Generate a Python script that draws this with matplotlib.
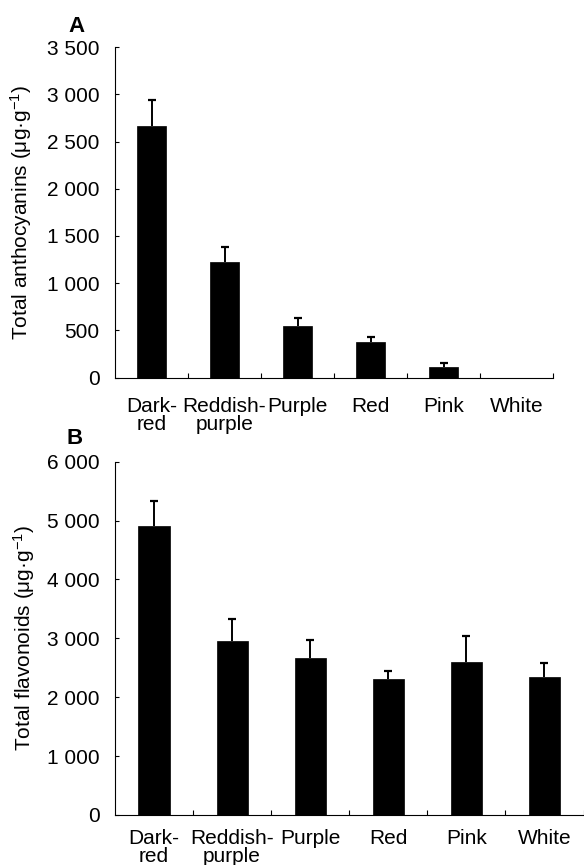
import matplotlib
matplotlib.use("Agg")
import matplotlib.pyplot as plt
import numpy as np
from matplotlib.ticker import FuncFormatter, FixedLocator

plt.rcParams['font.family'] = ['Liberation Sans', 'DejaVu Sans']
plt.rcParams['mathtext.fontset'] = 'custom'
plt.rcParams['mathtext.rm'] = 'Liberation Sans'
plt.rcParams['mathtext.it'] = 'Liberation Sans:italic'

categories = ["Dark-\nred", "Reddish-\npurple", "Purple", "Red", "Pink", "White"]

anthocyanins = [2670, 1222, 544, 375, 110, 0]
anthocyanins_err = [275, 159, 85, 59, 42, 0]

flavonoids = [4912, 2954, 2671, 2314, 2603, 2338]
flavonoids_err = [414, 379, 295, 126, 441, 242]

yticks_a = [0, 500, 1000, 1500, 2000, 2500, 3000, 3500]
yticks_b = [0, 1000, 2000, 3000, 4000, 5000, 6000]

fig = plt.figure(figsize=(5.84, 8.65), dpi=100)
fig.patch.set_facecolor('white')

W, H = 584.0, 865.0
def axes_rect(x0, x1, ytop, ybot):
    return [x0 / W, 1 - ybot / H, (x1 - x0) / W, (ybot - ytop) / H]

ax_a = fig.add_axes(axes_rect(115, 553, 47.3, 377.5))
ax_b = fig.add_axes(axes_rect(115, 583.5, 461.7, 815))

fmt = FuncFormatter(lambda v, p: f"{int(v):,}".replace(",", " "))

def draw(ax, vals, errs, yticks, ylabel, xpad, labelx):
    x = np.arange(len(categories))
    ax.bar(x, vals, width=0.4, color='black', edgecolor='black', linewidth=0.5, zorder=2)
    vals_arr = np.asarray(vals, dtype=float)
    errs_arr = np.asarray(errs, dtype=float)
    m = errs_arr > 0
    _, caps, _ = ax.errorbar(x[m], vals_arr[m], yerr=[np.zeros(m.sum()), errs_arr[m]],
                             fmt='none', ecolor='black', elinewidth=1.4, capsize=3,
                             capthick=1.6, zorder=3)
    if len(caps) == 2:
        caps[0].set_visible(False)
    ax.set_xlim(-0.5, len(categories) - 0.5)
    ax.set_ylim(yticks[0], yticks[-1])
    ax.set_yticks(yticks)
    ax.yaxis.set_major_formatter(fmt)
    ax.set_xticks(x)
    ax.set_xticklabels(categories, multialignment='center', linespacing=0.95)
    ax.xaxis.set_minor_locator(FixedLocator(np.arange(len(categories)) + 0.5))
    ax.tick_params(axis='x', which='major', length=0, pad=xpad, labelsize=15)
    ax.tick_params(axis='x', which='minor', direction='in', length=3.5, width=0.8)
    ax.tick_params(axis='y', which='major', direction='in', length=3, width=0.8, pad=11, labelsize=15)
    for s in ['top', 'right']:
        ax.spines[s].set_visible(False)
    for s in ['left', 'bottom']:
        ax.spines[s].set_linewidth(0.8)
    ax.set_ylabel(ylabel, fontsize=15)
    ax.yaxis.set_label_coords(labelx, 0.5)

draw(ax_a, anthocyanins, anthocyanins_err, yticks_a,
     r"Total anthocyanins (μg·g$^{-1}$)", 14, -0.185)
draw(ax_b, flavonoids, flavonoids_err, yticks_b,
     r"Total flavonoids (μg·g$^{-1}$)", 10, -0.166)

fig.text(68 / W, 1 - 32 / H, "A", fontsize=16, fontweight='bold', ha='left', va='baseline')
fig.text(67 / W, 1 - 444 / H, "B", fontsize=16, fontweight='bold', ha='left', va='baseline')

fig.savefig("out.png", dpi=100, facecolor='white')
